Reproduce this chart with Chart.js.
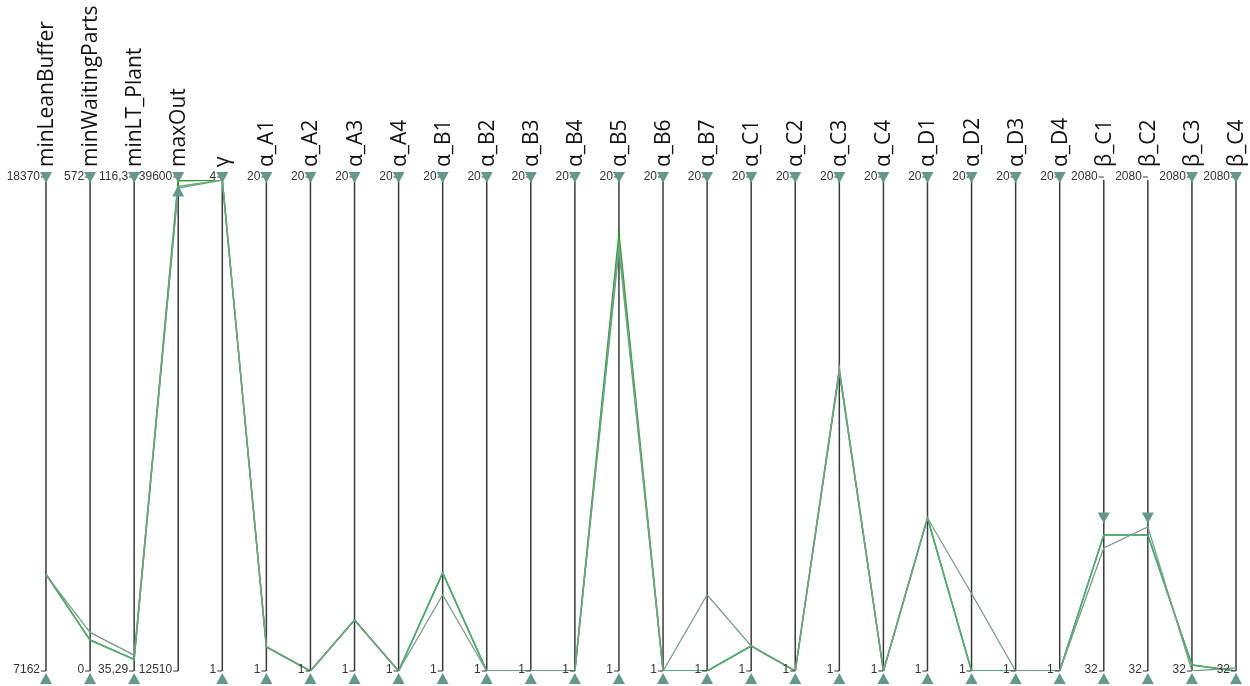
<!DOCTYPE html>
<html lang="en">
<head>
    <meta charset="UTF-8">
    <title>Parallel coordinates</title>
    <script src="https://cdn.jsdelivr.net/npm/chart.js"></script>
    <style>
        body { margin: 0; background: #fff; }
        #wrap { width: 1250px; height: 686px; position: relative; }
    </style>
</head>
<body>
<div id="wrap"><canvas id="pc"></canvas></div>
<script>
    // axes (dimensions)
    const dims = ['minLeanBuffer', 'minWaitingParts', 'minLT_Plant', 'maxOut', 'γ',
        'α_A1', 'α_A2', 'α_A3', 'α_A4', 'α_B1', 'α_B2', 'α_B3', 'α_B4', 'α_B5', 'α_B6', 'α_B7',
        'α_C1', 'α_C2', 'α_C3', 'α_C4', 'α_D1', 'α_D2', 'α_D3', 'α_D4',
        'β_C1', 'β_C2', 'β_C3', 'β_C4'];

    const axisMin = [7162, 0, 35.29, 12510, 1,
        1, 1, 1, 1, 1, 1, 1, 1, 1, 1, 1,
        1, 1, 1, 1, 1, 1, 1, 1,
        32, 32, 32, 32];
    const axisMax = [18370, 572, 116.3, 39600, 4,
        20, 20, 20, 20, 20, 20, 20, 20, 20, 20, 20,
        20, 20, 20, 20, 20, 20, 20, 20,
        2080, 2080, 2080, 2080];

    // tick labels as printed
    const topLabels = ['18370', '572', '116,3', '39600', '4',
        '20', '20', '20', '20', '20', '20', '20', '20', '20', '20', '20',
        '20', '20', '20', '20', '20', '20', '20', '20',
        '2080', '2080', '2080', '2080'];
    const bottomLabels = ['7162', '0', '35,29', '12510', '1',
        '1', '1', '1', '1', '1', '1', '1', '1', '1', '1', '1',
        '1', '1', '1', '1', '1', '1', '1', '1',
        '32', '32', '32', '32'];

    // brush filter positions
    const filterHigh = [18370, 572, 116.3, 39600, 4,
        20, 20, 20, 20, 20, 20, 20, 20, 20, 20, 20,
        20, 20, 20, 20, 20, 20, 20, 20,
        660, 660, 2080, 2080];
    const filterLow = [7162, 0, 35.29, 39400, 1,
        1, 1, 1, 1, 1, 1, 1, 1, 1, 1, 1,
        1, 1, 1, 1, 1, 1, 1, 1,
        32, 32, 32, 32];

    // solutions
    const solA = [9370, 36, 37.2, 39560, 4,
        1.93, 1, 2.97, 1, 4.8, 1, 1, 1, 17.9, 1, 1,
        1.97, 1, 12.6, 1, 6.92, 1, 1, 1,
        599, 599, 57, 32];
    const solB = [9354, 45, 37.9, 39250, 4,
        1.95, 1, 2.97, 1, 3.95, 1, 1, 1, 17.6, 1, 3.95,
        1.97, 1, 12.73, 1, 6.92, 4, 1, 1,
        545, 633, 32, 45];
    const solC = [9370, 36, 37.2, 39150, 4,
        1.93, 1, 2.97, 1, 4.8, 1, 1, 1, 17.3, 1, 1,
        1.97, 1, 12.6, 1, 6.92, 1, 1, 1,
        599, 599, 57, 32];

    function norm(vals) {
        return vals.map((v, i) => (v - axisMin[i]) / (axisMax[i] - axisMin[i]));
    }

    const axesPlugin = {
        id: 'pcAxes',
        beforeDatasetsDraw(chart) {
            const ctx = chart.ctx, xs = chart.scales.x, ys = chart.scales.y;
            ctx.save();
            ctx.strokeStyle = '#3a3a3a';
            ctx.lineWidth = 1.5;
            dims.forEach((d, i) => {
                const x = xs.getPixelForValue(i);
                ctx.beginPath();
                ctx.moveTo(x, ys.getPixelForValue(1));
                ctx.lineTo(x, ys.getPixelForValue(0));
                ctx.stroke();
            });
            ctx.restore();
        },
        afterDatasetsDraw(chart) {
            const ctx = chart.ctx, xs = chart.scales.x, ys = chart.scales.y;
            const yTop = ys.getPixelForValue(1), yBot = ys.getPixelForValue(0);
            ctx.save();
            dims.forEach((d, i) => {
                const x = xs.getPixelForValue(i);
                // header
                ctx.save();
                ctx.translate(x, yTop - 13);
                ctx.rotate(-Math.PI / 2);
                ctx.fillStyle = '#111';
                ctx.font = '21px "Open Sans", sans-serif';
                ctx.textAlign = 'left';
                ctx.textBaseline = 'middle';
                ctx.fillText(d, 0, 1);
                ctx.restore();
                // tick labels
                ctx.fillStyle = '#333';
                ctx.font = '12px "Liberation Sans", sans-serif';
                ctx.textAlign = 'right';
                ctx.textBaseline = 'middle';
                ctx.fillText(topLabels[i], x - 6, yTop - 3);
                ctx.fillText(bottomLabels[i], x - 6, yBot - 1);
                ctx.strokeStyle = '#333';
                ctx.lineWidth = 1;
                ctx.beginPath();
                ctx.moveTo(x - 5, yTop - 3); ctx.lineTo(x, yTop - 3);
                ctx.moveTo(x - 5, yBot); ctx.lineTo(x, yBot);
                ctx.stroke();
                // brush markers
                ctx.fillStyle = '#64988a';
                const yh = ys.getPixelForValue((filterHigh[i] - axisMin[i]) / (axisMax[i] - axisMin[i]));
                ctx.beginPath();
                ctx.moveTo(x - 6, yh - 8); ctx.lineTo(x + 6, yh - 8); ctx.lineTo(x, yh + 3);
                ctx.closePath(); ctx.fill();
                const yl = ys.getPixelForValue((filterLow[i] - axisMin[i]) / (axisMax[i] - axisMin[i]));
                ctx.beginPath();
                ctx.moveTo(x - 6, yl + 13); ctx.lineTo(x + 6, yl + 13); ctx.lineTo(x, yl + 2);
                ctx.closePath(); ctx.fill();
            });
            ctx.restore();
        }
    };

    const ctx = document.getElementById('pc').getContext('2d');
    new Chart(ctx, {
        type: 'line',
        data: {
            labels: dims,
            datasets: [
                { label: 'B', data: norm(solB), borderColor: '#7a9d88', borderWidth: 1.3 },
                { label: 'C', data: norm(solC), borderColor: '#5aa884', borderWidth: 1.3 },
                { label: 'A', data: norm(solA), borderColor: '#22a022', borderWidth: 1.6 }
            ]
        },
        options: {
            responsive: true,
            maintainAspectRatio: false,
            animation: false,
            layout: { padding: { left: 46, right: 14, top: 180, bottom: 15 } },
            elements: { point: { radius: 0 }, line: { tension: 0 } },
            plugins: { legend: { display: false }, tooltip: { enabled: false } },
            scales: {
                x: { type: 'category', display: false, offset: false },
                y: { display: false, min: 0, max: 1 }
            }
        },
        plugins: [axesPlugin]
    });
</script>
</body>
</html>
